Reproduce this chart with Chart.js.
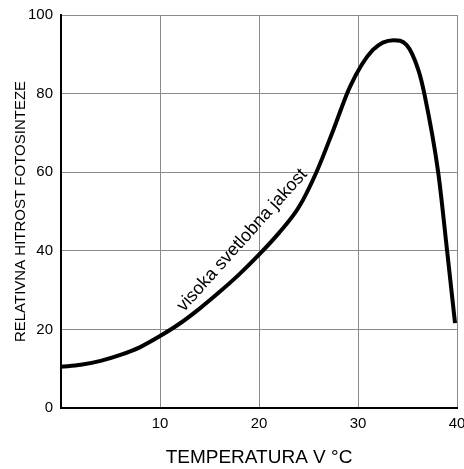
<!DOCTYPE html>
<html>
<head>
<meta charset="utf-8">
<script src="https://cdn.jsdelivr.net/npm/chart.js@4"></script>
<style>
  body { margin: 0; background: #fff; }
  #wrap { width: 464px; height: 469px; }
</style>
</head>
<body>
<div id="wrap"><canvas id="rateChart"></canvas></div>
<script>
// temperature (°C) and relative rate
const temps = [0, 2, 4, 6, 8, 10, 12, 14, 16, 18, 20, 22, 24, 25.8, 27.5, 29.2, 31.5, 33.6, 34.9, 36.1, 36.7, 38.1, 39, 39.8];
const rates = [10.5, 11, 12, 13.5, 15.5, 18.3, 21.5, 25.3, 29.5, 34, 39, 44.5, 51, 60, 70.7, 81.8, 91.1, 93.6, 92.4, 86, 80, 60, 40, 21.6];
const xTicks = [10, 20, 30, 40];
const yTicks = [0, 20, 40, 60, 80, 100];
const curveLabel = 'visoka svetlobna jakost';
const curveLabelAt = [18.3, 42.7];

const FONT = '"Liberation Sans", Arial, sans-serif';

// writes the label along the curve
const curveText = {
    id: 'curveText',
    afterDatasetsDraw(chart) {
        const {ctx, scales} = chart;
        ctx.save();
        ctx.translate(scales.x.getPixelForValue(curveLabelAt[0]), scales.y.getPixelForValue(curveLabelAt[1]));
        ctx.rotate(-48 * Math.PI / 180);
        ctx.font = '18px ' + FONT;
        ctx.fillStyle = '#000';
        ctx.textAlign = 'center';
        ctx.textBaseline = 'middle';
        ctx.fillText(curveLabel, 0, 0);
        ctx.restore();
    }
};

const whiteBg = {
    id: 'whiteBg',
    beforeDraw(chart) {
        const ctx = chart.ctx;
        ctx.save();
        ctx.fillStyle = '#fff';
        ctx.fillRect(0, 0, chart.width, chart.height);
        ctx.restore();
    }
};

new Chart(document.getElementById('rateChart').getContext('2d'), {
    type: 'line',
    data: {
        datasets: [{
            data: temps.map((t, i) => ({x: t, y: rates[i]})),
            borderColor: '#000',
            borderWidth: 4,
            pointRadius: 0,
            cubicInterpolationMode: 'monotone',
            fill: false
        }]
    },
    options: {
        responsive: true,
        maintainAspectRatio: false,
        animation: false,
        layout: { padding: { top: 15, right: 7, left: 0, bottom: 0 } },
        plugins: { legend: { display: false }, tooltip: { enabled: false } },
        scales: {
            x: {
                type: 'linear',
                min: 0, max: 40,
                afterBuildTicks: s => { s.ticks = xTicks.map(v => ({value: v})); },
                afterFit: s => { s.height = 61; s.paddingLeft = 0; s.paddingRight = 0; },
                ticks: { color: '#000', padding: 7, font: { family: FONT, size: 15 } },
                grid: { color: '#8a8a8a', lineWidth: 1, drawTicks: false },
                border: { color: '#000', width: 2 },
                title: {
                    display: true,
                    text: 'TEMPERATURA V °C',
                    color: '#000',
                    font: { family: FONT, size: 19 },
                    padding: { top: 8, bottom: 0 }
                }
            },
            y: {
                min: 0, max: 100,
                afterBuildTicks: s => { s.ticks = yTicks.map(v => ({value: v})); },
                afterFit: s => { s.width = 61; s.paddingTop = 0; s.paddingBottom = 0; },
                ticks: { color: '#000', padding: 8, font: { family: FONT, size: 15 } },
                grid: { color: '#8a8a8a', lineWidth: 1, drawTicks: false },
                border: { color: '#000', width: 2 },
                title: {
                    display: true,
                    text: 'RELATIVNA HITROST FOTOSINTEZE',
                    color: '#000',
                    font: { family: FONT, size: 15 },
                    padding: { top: 12, bottom: 0 }
                }
            }
        }
    },
    plugins: [whiteBg, curveText]
});
</script>
</body>
</html>
